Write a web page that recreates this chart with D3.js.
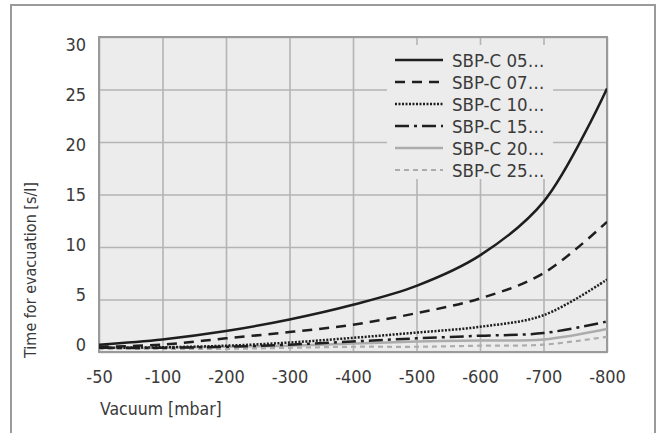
<!DOCTYPE html>
<html>
<head>
<meta charset="utf-8">
<script src="https://cdn.jsdelivr.net/npm/d3@7"></script>
<style>
  html, body { margin: 0; padding: 0; background: #fff; }
  svg { display: block; }
  text { font-family: "DejaVu Sans Condensed", "DejaVu Sans", sans-serif; font-stretch: condensed; fill: #3a3a3a; }
</style>
</head>
<body>
<svg id="chart" width="659" height="433"></svg>
<script>
// ---- data ----
const categories = ["-50", "-100", "-200", "-300", "-400", "-500", "-600", "-700", "-800"];
const seriesNames = ["SBP-C 05…", "SBP-C 07…", "SBP-C 10…", "SBP-C 15…", "SBP-C 20…", "SBP-C 25…"];
const s05 = [0.7, 1.2, 2.0, 3.1, 4.5, 6.3, 9.2, 14.3, 25.1];
const s07 = [0.5, 0.7, 1.3, 1.9, 2.6, 3.7, 5.1, 7.5, 12.4];
const s10 = [0.4, 0.45, 0.6, 0.9, 1.35, 1.85, 2.4, 3.5, 6.9];
const s15 = [0.4, 0.4, 0.5, 0.7, 1.0, 1.3, 1.55, 1.8, 2.9];
const s20 = [0.4, 0.4, 0.5, 0.6, 0.8, 1.0, 1.1, 1.2, 2.2];
const s25 = [0.3, 0.3, 0.3, 0.4, 0.5, 0.5, 0.6, 0.7, 1.45];
const yTicks = [0, 5, 10, 15, 20, 25, 30];
const yTitle = "Time for evacuation [s/l]";
const xTitle = "Vacuum [mbar]";

const seriesValues = [s05, s07, s10, s15, s20, s25];
const styles = [
  { color: "#1e1e1e", dash: null, width: 2.5 },
  { color: "#1e1e1e", dash: "10,7", width: 2.5 },
  { color: "#1e1e1e", dash: "2,1.5", width: 2.5 },
  { color: "#1e1e1e", dash: "14,5,3,5", width: 2.5 },
  { color: "#acacac", dash: null, width: 2.5 },
  { color: "#acacac", dash: "5,4", width: 2.2 }
];

const svg = d3.select("#chart");

// outer frame
const frame = d3.path();
frame.moveTo(11, 440); frame.lineTo(11, 5); frame.lineTo(655, 5); frame.lineTo(655, 440);
svg.append("path").attr("d", frame.toString()).attr("fill", "none").attr("stroke", "#9a9a9a").attr("stroke-width", 2);

const pL = 99, pR = 607, pT = 37, pB = 352;
const x = d3.scalePoint().domain(categories).range([pL, pR]);
const y = d3.scaleLinear().domain([0, 30]).range([pB, pT]);
const yLab = d3.scaleLinear().domain([0, 30]).range([345, 45]);

// plot background
svg.append("rect").attr("x", pL).attr("y", pT).attr("width", pR - pL).attr("height", pB - pT)
  .attr("fill", "#ececec");

// gridlines
const gy = svg.append("g").attr("transform", `translate(${pL},0)`)
  .call(d3.axisLeft(y).tickValues(yTicks).tickSize(-(pR - pL)).tickFormat(""));
gy.select(".domain").remove();
gy.selectAll("line").attr("stroke", "#b4b4b4").attr("stroke-width", 1.6);

const gx = svg.append("g").attr("transform", `translate(0,${pB})`)
  .call(d3.axisBottom(x).tickSize(-(pB - pT)).tickFormat(""));
gx.select(".domain").remove();
gx.selectAll("line").attr("stroke", "#b4b4b4").attr("stroke-width", 1.6);

// legend background (covers grid)
const lg = svg.append("g");
lg.append("rect").attr("x", 387).attr("y", 45).attr("width", 166).attr("height", 134).attr("fill", "#ececec");

// plot border
svg.append("rect").attr("x", pL).attr("y", pT).attr("width", pR - pL).attr("height", pB - pT)
  .attr("fill", "none").attr("stroke", "#9a9a9a").attr("stroke-width", 2);

// lines
const line = d3.line().x((d, i) => x(categories[i])).y(d => y(d)).curve(d3.curveCatmullRom.alpha(0.5));
svg.append("clipPath").attr("id", "clip").append("rect")
  .attr("x", pL).attr("y", pT - 3).attr("width", pR - pL).attr("height", pB - pT + 2);
const linesG = svg.append("g").attr("clip-path", "url(#clip)");
[5, 4, 3, 2, 1, 0].forEach(k => {
  linesG.append("path").datum(seriesValues[k]).attr("d", line)
    .attr("fill", "none").attr("stroke", styles[k].color).attr("stroke-width", styles[k].width)
    .attr("stroke-dasharray", styles[k].dash).attr("stroke-linejoin", "round");
});

// legend entries
seriesNames.forEach((name, k) => {
  const cy = 60 + k * 22;
  lg.append("line").attr("x1", 395).attr("x2", 443).attr("y1", cy).attr("y2", cy)
    .attr("stroke", styles[k].color).attr("stroke-width", styles[k].width)
    .attr("stroke-dasharray", styles[k].dash);
  lg.append("text").attr("x", 452).attr("y", cy).attr("dy", "0.36em")
    .attr("font-size", 18.5).text(name);
});

// y tick labels
const yl = svg.append("g").attr("transform", `translate(86,0)`)
  .call(d3.axisLeft(yLab).tickValues(yTicks).tickSize(0).tickPadding(0).tickFormat(d3.format("d")));
yl.select(".domain").remove();
yl.selectAll("text").attr("font-size", 18).attr("font-family", null).attr("fill", "#3a3a3a");

// x tick labels
const xl = svg.append("g").attr("transform", `translate(0,370)`)
  .call(d3.axisBottom(x).tickSize(0).tickPadding(0));
xl.select(".domain").remove();
xl.selectAll("text").attr("font-size", 18).attr("font-family", null).attr("fill", "#3a3a3a");

// axis titles
svg.append("text").attr("transform", "translate(36,270) rotate(-90)").attr("text-anchor", "middle")
  .attr("font-size", 16).text(yTitle);
svg.append("text").attr("x", 100).attr("y", 415).attr("font-size", 17.5).text(xTitle);
</script>
</body>
</html>
